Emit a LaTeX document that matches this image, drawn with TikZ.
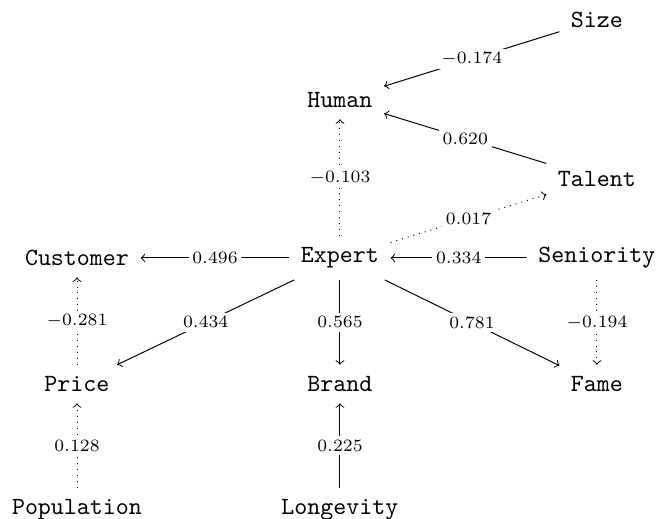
\documentclass[tikz,border=0pt]{standalone}
\usepackage{tikz}
\usepackage{amsmath}
\tikzset{
factor/.style={rectangle,inner sep=4.5pt,font=\ttfamily},
coef/.style={fill=white,inner sep=1.5pt,font=\scriptsize},
strong/.style={->},
weak/.style={->,dotted},
}

\begin{document}
\begin{tikzpicture}
\useasboundingbox (-4.826,-3.705) rectangle (4.514,3.662);
% the variables
\node[factor] (expert)     at (0,0)          {Expert};
\node[factor] (customer)   at (-3.733,0)     {Customer};
\node[factor] (seniority)  at (3.648,0)      {Seniority};
\node[factor] (talent)     at (3.648,1.121)  {Talent};
\node[factor] (human)      at (0,2.243)      {Human};
\node[factor] (size)       at (3.648,3.378)  {Size};
\node[factor] (price)      at (-3.733,-1.789) {Price};
\node[factor] (brand)      at (0,-1.789)     {Brand};
\node[factor] (fame)       at (3.648,-1.789) {Fame};
\node[factor] (population) at (-3.733,-3.578) {Population};
\node[factor] (longevity)  at (0,-3.578)     {Longevity};
% the paths
\draw[strong] (size) -- node[coef] {$-0.174$} (human);
\draw[strong] (talent) -- node[coef] {$0.620$} (human);
\draw[weak] (expert) -- node[coef] {$-0.103$} (human);
\draw[weak] (expert) -- node[coef] {$0.017$} (talent);
\draw[strong] (expert) -- node[coef] {$0.496$} (customer);
\draw[strong] (seniority) -- node[coef] {$0.334$} (expert);
\draw[weak] (price) -- node[coef] {$-0.281$} (customer);
\draw[strong] (expert) -- node[coef] {$0.434$} (price);
\draw[strong] (expert) -- node[coef] {$0.565$} (brand);
\draw[strong] (expert) -- node[coef] {$0.781$} (fame);
\draw[weak] (seniority) -- node[coef] {$-0.194$} (fame);
\draw[weak] (population) -- node[coef] {$0.128$} (price);
\draw[strong] (longevity) -- node[coef] {$0.225$} (brand);
\end{tikzpicture}
\end{document}
